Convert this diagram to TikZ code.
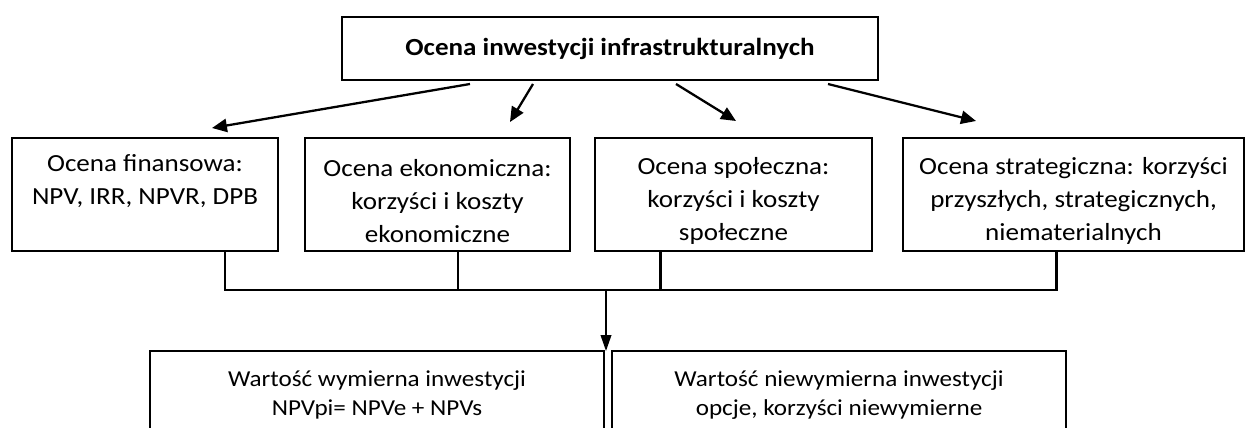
\documentclass[tikz,border=0pt]{standalone}
\usepackage{fontspec}
\setmainfont[FakeStretch=1.1]{Carlito}
\usetikzlibrary{arrows.meta,calc}
\begin{document}
\begin{tikzpicture}[x=0.02cm,y=-0.02cm,
  arr/.style={line width=1.3pt,-{Triangle[length=8.5pt,width=7.5pt]}},
  conn/.style={line width=1.7pt},
  btxt/.style={font=\fontsize{14}{18.7}\selectfont,align=center},
  stxt/.style={font=\fontsize{13}{16.5}\selectfont,align=center}]
\useasboundingbox (0,0) rectangle (1248,428);
% top
\draw[line width=0.8pt] (342,17) rectangle (878,80);
\node[font=\bfseries\fontsize{14}{16}\selectfont] (top) at (610,48.5) {Ocena inwestycji infrastrukturalnych};
% row boxes
\draw[line width=0.7pt] (12,138) rectangle (278,251);
\draw[line width=0.7pt] (305,138) rectangle (570,251);
\draw[line width=0.7pt] (595,138) rectangle (872,251);
\draw[line width=0.7pt] (903,138) rectangle (1244,251);
\node[btxt] (b1) at (145,201) {Ocena finansowa:\\NPV, IRR, NPVR, DPB\\\strut};
\node[btxt] (b2) at (437.5,201) {Ocena ekonomiczna:\\korzyści i koszty\\ekonomiczne};
\node[btxt] (b3) at (733.5,201) {Ocena społeczna:\\korzyści i koszty\\społeczne};
\node[btxt] (b4) at (1073.5,201) {Ocena strategiczna: korzyści\\przyszłych, strategicznych,\\niematerialnych};
% arrow coordinates
\coordinate (s1) at (470,84);
\coordinate (s2) at (533,84);
\coordinate (s3) at (676,84);
\coordinate (s4) at (828,84);
\coordinate (e1) at (212,128);
\coordinate (e2) at (510,122);
\coordinate (e3) at (736,121);
\coordinate (e4) at (976,121);
\draw[arr] (s1) -- (e1);
\draw[arr] (s2) -- (e2);
\draw[arr] (s3) -- (e3);
\draw[arr] (s4) -- (e4);
% connectors
\coordinate (c1) at (225,251);
\coordinate (c2) at (458,251);
\coordinate (c3) at (660,251);
\coordinate (c4) at (1056,251);
\coordinate (h1) at (225,290);
\coordinate (h2) at (458,290);
\coordinate (h3) at (660,290);
\coordinate (h4) at (1056,290);
\draw[conn] (c1) -- (h1) -- (h4) -- (c4);
\draw[conn] (c2) -- (h2);
\draw[conn] (c3) -- (h3);
\coordinate (m) at (606,290);
\coordinate (mb) at (606,351);
\draw[line width=1pt,-{Triangle[length=9pt,width=6pt]}] (m) -- (mb);
% bottom boxes
\draw[line width=0.7pt] (150,436) -- (150,351) -- (604,351) -- (604,436);
\draw[line width=0.7pt] (612,436) -- (612,351) -- (1066,351) -- (1066,436);
\node[stxt] (w1) at (377,395) {Wartość wymierna inwestycji\\NPVpi= NPVe + NPVs};
\node[stxt] (w2) at (839,395) {Wartość niewymierna inwestycji\\opcje, korzyści niewymierne};
\end{tikzpicture}
\end{document}
